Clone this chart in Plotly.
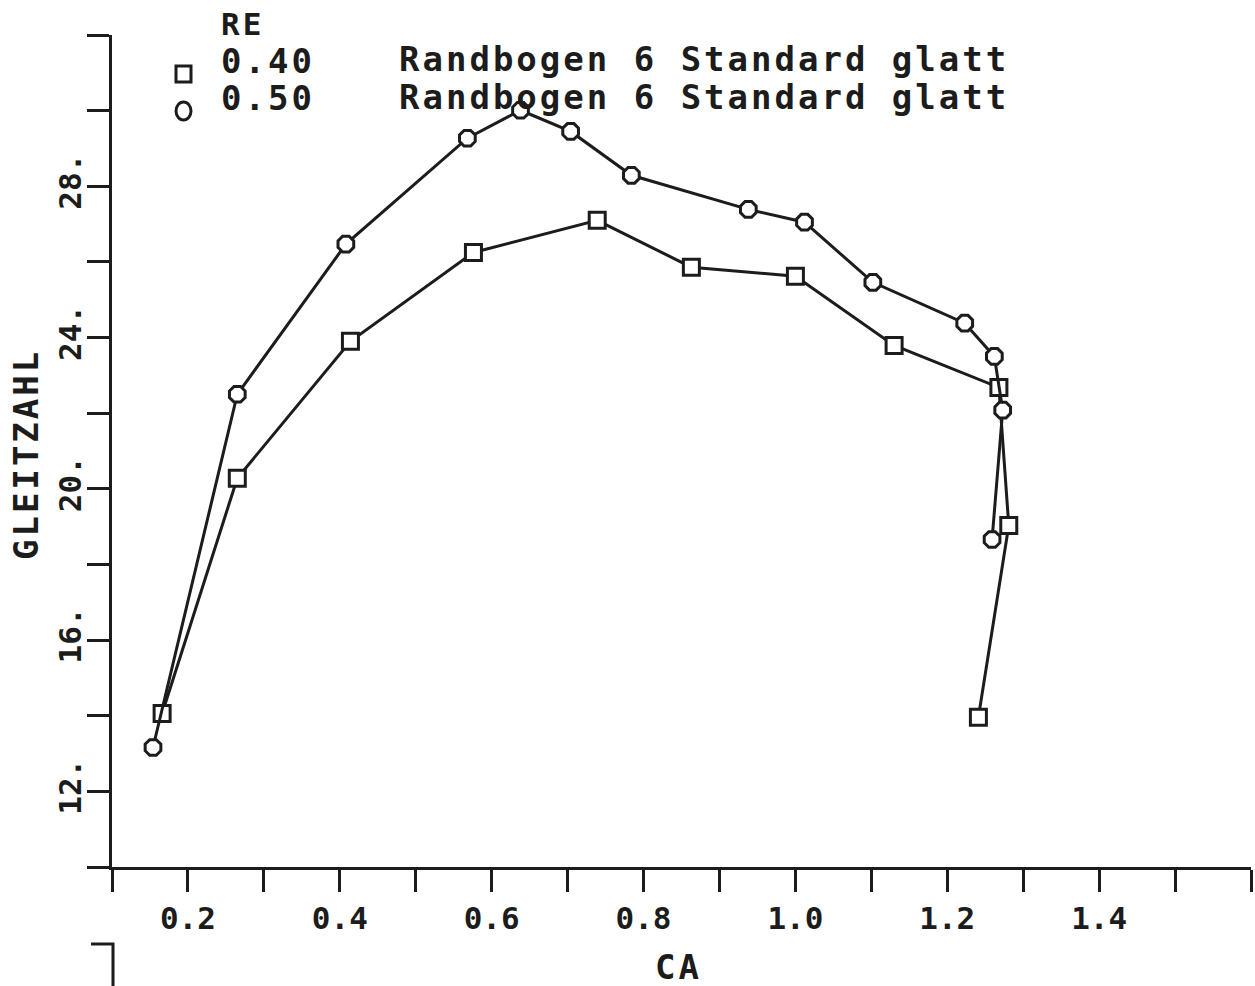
import plotly.graph_objects as go

# Polar data: glide ratio (GLEITZAHL) over lift coefficient (CA)
ca_re040 = [0.166, 0.265, 0.414, 0.576, 0.739, 0.863, 1.000, 1.130, 1.268, 1.281, 1.241]
gz_re040 = [14.06, 20.28, 23.90, 26.25, 27.10, 25.86, 25.62, 23.79, 22.68, 19.03, 13.96]

ca_re050 = [0.154, 0.265, 0.408, 0.568, 0.638, 0.704, 0.784, 0.938, 1.012, 1.102, 1.223, 1.262, 1.273, 1.259]
gz_re050 = [13.16, 22.50, 26.47, 29.27, 30.01, 29.45, 28.29, 27.39, 27.05, 25.46, 24.38, 23.50, 22.08, 18.66]

series_names = ["0.40", "0.50"]
series_label = "Randbogen 6 Standard glatt"

x_tick_vals = [round(0.1 * i, 1) for i in range(1, 17)]
x_tick_text = ["", "0.2", "", "0.4", "", "0.6", "", "0.8", "", "1.0", "", "1.2", "", "1.4", "", ""]
y_tick_vals = list(range(10, 33, 2))
y_tick_text = ["", "12.", "", "16.", "", "20.", "", "24.", "", "28.", "", ""]

W, H = 1255, 986
ML, MR, MT, MB = 112, 4, 35, 119
INK = "#1c1c1c"
FONT = "DejaVu Sans Mono"


def px(x):
    return (x - ML) / (W - ML - MR)


def py(y):
    return (H - MB - y) / (H - MT - MB)


def spaced(s, sp=3):
    return f'<span style="letter-spacing:{sp}px">{s}</span>'


fig = go.Figure()

fig.add_trace(go.Scatter(
    x=ca_re040, y=gz_re040, mode="lines+markers", name=series_names[0],
    line=dict(color=INK, width=3),
    marker=dict(symbol="square", size=16, color="white", line=dict(color=INK, width=3)),
    showlegend=False,
))
fig.add_trace(go.Scatter(
    x=ca_re050, y=gz_re050, mode="lines+markers", name=series_names[1],
    line=dict(color=INK, width=3),
    marker=dict(symbol="octagon", size=17, color="white", line=dict(color=INK, width=3)),
    showlegend=False,
))

axis_common = dict(
    showline=True, linecolor=INK, linewidth=3,
    ticks="outside", ticklen=22, tickwidth=3, tickcolor=INK,
    showgrid=False, zeroline=False, tickmode="array",
    tickfont=dict(family=FONT, size=31, color=INK, weight="bold"),
)

fig.update_xaxes(range=[0.1, 1.6], tickvals=x_tick_vals, ticktext=x_tick_text, **axis_common)
fig.update_yaxes(range=[10, 32], tickvals=y_tick_vals, ticktext=y_tick_text, tickangle=-90,
                 ticklabelstandoff=-6, **axis_common)

txt = dict(family=FONT, size=34, color=INK, weight="bold")
annotations = [
    dict(text=spaced("RE"), x=px(219), y=py(24), xanchor="left", yanchor="middle",
         font=dict(txt, size=31)),
    dict(text=spaced(series_names[0]), x=px(219), y=py(61), xanchor="left", yanchor="middle", font=txt),
    dict(text=spaced(series_names[1]), x=px(219), y=py(98), xanchor="left", yanchor="middle", font=txt),
    dict(text=spaced(series_label), x=px(397), y=py(59), xanchor="left", yanchor="middle", font=txt),
    dict(text=spaced(series_label), x=px(397), y=py(97), xanchor="left", yanchor="middle", font=txt),
    dict(text=spaced("CA"), x=px(678), y=py(967), xanchor="center", yanchor="middle", font=txt),
    dict(text=spaced("GLEITZAHL"), x=px(26), y=py(455), xanchor="center", yanchor="middle",
         textangle=-90, font=txt),
]
for a in annotations:
    a.update(xref="paper", yref="paper", showarrow=False)

shapes = [
    # key symbols
    dict(type="rect", x0=px(176), x1=px(191), y0=py(82), y1=py(66),
         line=dict(color=INK, width=3), fillcolor="white"),
    dict(type="circle", x0=px(176), x1=px(191), y0=py(120), y1=py(102),
         line=dict(color=INK, width=3), fillcolor="white"),
    # corner of the next panel's frame
    dict(type="path", path=f"M {px(91)} {py(944)} L {px(113)} {py(944)} L {px(113)} {py(992)}",
         line=dict(color=INK, width=3)),
]
for s in shapes:
    s.update(xref="paper", yref="paper")

fig.update_layout(
    width=W, height=H,
    margin=dict(l=ML, r=MR, t=MT, b=MB),
    paper_bgcolor="white", plot_bgcolor="white",
    annotations=annotations, shapes=shapes,
    showlegend=False,
)

fig.write_html("out.html")
